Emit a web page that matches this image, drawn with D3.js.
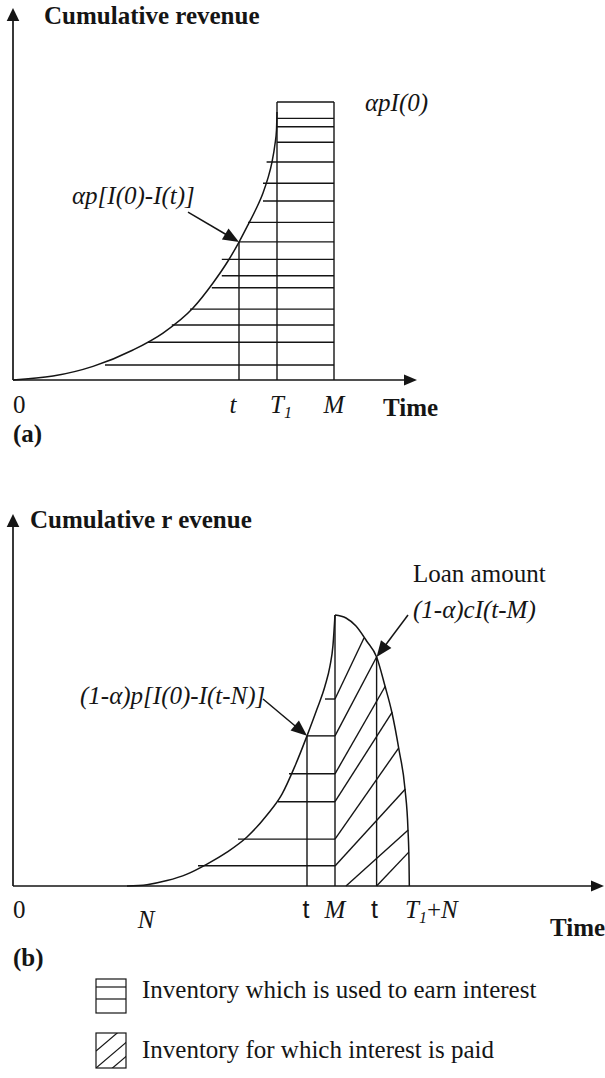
<!DOCTYPE html>
<html>
<head>
<meta charset="utf-8">
<script src="https://cdn.jsdelivr.net/npm/d3@7"></script>
<style>
  body { margin: 0; background: #fff; }
  svg { display: block; }
  text { font-family: "Liberation Serif", "Times New Roman", serif; font-size: 25px; fill: #151515; }
  .bold { font-weight: bold; }
  .it { font-style: italic; }
</style>
</head>
<body>
<svg id="fig" width="605" height="1078"></svg>
<script>
// ---------- Panel (a): revenue earned on the alpha share ----------
const curveA_time = [0, 10, 20, 30, 37.5, 45, 50, 53.75, 56.5, 58.75, 60.75, 62.5, 63.75, 64.75, 65.5, 65.875, 66];
const curveA_rev  = [0, 1.4, 4.9, 10.8, 16.9, 25.9, 34.9, 42.8, 49.6, 55.8, 61.5, 67.3, 72.7, 78.4, 84.9, 89.9, 96.4];
const hatchA_rev  = [94.1, 91.1, 85.5, 78.4, 70.8, 64.4, 56.7, 49.7, 43.4, 37.5, 33.2, 25.5, 19.8, 13.6, 5.4];
const hatchA_from = [66, 66, 66, 63.4, 62.5, 62.5, 58.75, 56.5, 52.2, 52.2, 49.7, 44.25, 39.7, 33.75, 23];
const markA_times = [56.5, 66, 80.25];     // t, T1, M
const markA_tops  = [49.6, 100, 100];      // revenue where each vertical stops
const tickA_labels = ["0", "t", "T_1", "M"];
const tickA_times  = [0, 56.5, 66, 80.25];
const tickA_italic = [false, true, true, true];
const axisA_ends = [101, 133.8];           // time end, revenue end
const annA_from = [43.75, 60.4];
const annA_to   = [56.5, 49.6];

// ---------- Panel (b): revenue on the (1-alpha) share and the loan ----------
const riseB_time = [28.5, 33.5, 38.5, 43.5, 48.5, 53.5, 58.5, 63.5, 67.25, 70.5, 73.5, 76, 78, 79.25, 80, 80.5];
const riseB_rev  = [0, 0.5, 2.0, 4.4, 8.1, 12.5, 18.1, 26.2, 33.9, 44.3, 55.4, 65.3, 73.8, 81.2, 88.9, 100];
const fallB_time = [80.5, 83.25, 85.75, 88.4, 90.9, 93, 94.7, 96.5, 98, 98.75, 99, 99.08];
const fallB_rev  = [100, 98.9, 95.9, 90.4, 84.5, 73.8, 64.2, 50.2, 35.8, 20.7, 9.2, 0];
const hatchB_rev  = [69, 55.4, 41.4, 31.1, 17.3, 7.5];
const hatchB_from = [78, 73.5, 69, 66.25, 56.25, 46.25];
const slashB_t0 = [80.5, 80.5, 80.5, 80.5, 80.5, 80.5, 83.25, 90.9];
const slashB_v0 = [69, 55.4, 41.4, 31.1, 17.3, 7.4, 0, 0];
const slashB_t1 = [87.75, 90.9, 93.1, 94.8, 96.4, 98.1, 98.8, 98.95];
const slashB_v1 = [91.5, 84.5, 73.8, 64.2, 50.9, 35.8, 20.7, 12.5];
const markB_times = [73.5, 80.5, 90.9];    // t, M, t
const markB_tops  = [55.4, 100, 84.5];
const tickB_labels = ["0", "N", "t", "M", "t", "T_1+N"];
const tickB_times  = [0, 28.5, 73.5, 80.5, 90.9, 99];
const tickB_italic = [false, true, false, true, false, true];
const axisB_ends = [147.75, 137.3];
const annB1_from = [62.5, 69];
const annB1_to   = [73.5, 55.4];
const annB2_from = [98.75, 100];
const annB2_to   = [90.9, 84.5];

const legendLabels = ["Inventory which is used to earn interest", "Inventory for which interest is paid"];

// ---------- scales ----------
const x  = d3.scaleLinear().domain([0, 100]).range([13, 413]);
const yA = d3.scaleLinear().domain([0, 100]).range([380, 102]);
const yB = d3.scaleLinear().domain([0, 100]).range([886, 615]);

const ink = "#151515";
const svg = d3.select("#fig");

function seg(g, x1, y1, x2, y2, w) {
  return g.append("line").attr("x1", x1).attr("y1", y1).attr("x2", x2).attr("y2", y2)
    .attr("stroke", ink).attr("stroke-width", w || 1.4);
}

function arrow(g, x1, y1, x2, y2, len, hw, w) {
  const dx = x2 - x1, dy = y2 - y1, L = Math.hypot(dx, dy), ux = dx / L, uy = dy / L;
  const bx = x2 - ux * len, by = y2 - uy * len;
  seg(g, x1, y1, bx + ux, by + uy, w);
  g.append("path")
    .attr("d", `M${x2},${y2}L${bx - uy * hw},${by + ux * hw}L${bx + uy * hw},${by - ux * hw}Z`)
    .attr("fill", ink);
}

// label text; "_1" marks a subscript, "+" is set upright
function richText(g, str, px, py, italic, anchor) {
  const t = g.append("text").attr("x", px).attr("y", py).attr("text-anchor", anchor || "start");
  if (italic) t.classed("it", true);
  const parts = str.split(/(_\d)/).filter(s => s.length);
  let lowered = false;
  parts.forEach(p => {
    if (p[0] === "_") {
      t.append("tspan").attr("font-size", 16).attr("dy", 5).text(p.slice(1));
      lowered = true;
    } else {
      p.split(/(\+)/).filter(s => s.length).forEach(c => {
        const ts = t.append("tspan").text(c);
        if (c === "+") ts.style("font-style", "normal");
        if (lowered) { ts.attr("dy", -5); lowered = false; }
      });
    }
  });
  return t;
}

const line = d3.line().curve(d3.curveMonotoneX);

// ================= Panel (a) =================
const gA = svg.append("g");

hatchA_rev.forEach((v, i) => seg(gA, x(hatchA_from[i]), yA(v), x(markA_times[2]), yA(v), 1.4));
seg(gA, x(markA_times[1]), yA(100), x(markA_times[2]), yA(100), 1.4);
markA_times.forEach((tm, i) => seg(gA, x(tm), yA(0), x(tm), yA(markA_tops[i]), 1.4));
gA.append("path")
  .attr("d", line(curveA_time.map((tm, i) => [x(tm), yA(curveA_rev[i])])))
  .attr("fill", "none").attr("stroke", ink).attr("stroke-width", 1.5);

arrow(gA, x(0), yA(0), x(axisA_ends[0]), yA(0), 13, 5.5, 1.7);
arrow(gA, x(0), yA(0), x(0), yA(axisA_ends[1]), 13, 6.3, 1.7);
arrow(gA, x(annA_from[0]), yA(annA_from[1]), x(annA_to[0]), yA(annA_to[1]), 16, 6.5, 1.5);

gA.append("text").attr("class", "bold").attr("x", 44).attr("y", 24).text("Cumulative revenue");
gA.append("text").attr("class", "it").attr("x", 365).attr("y", 111).text("αpI(0)");
gA.append("text").attr("class", "it").attr("x", 72).attr("y", 204).text("αp[I(0)-I(t)]");

const offA = [0, -6, -7, 0];
const ancA = ["start", "middle", "start", "middle"];
tickA_labels.forEach((lb, i) => {
  richText(gA, lb, x(tickA_times[i]) + offA[i], 413, tickA_italic[i], ancA[i]);
});
gA.append("text").attr("class", "bold").attr("x", 383).attr("y", 416).text("Time");
gA.append("text").attr("class", "bold").attr("x", 13).attr("y", 442).text("(a)");

// ================= Panel (b) =================
const gB = svg.append("g");

hatchB_rev.forEach((v, i) => seg(gB, x(hatchB_from[i]), yB(v), x(markB_times[1]), yB(v), 1.4));
slashB_t0.forEach((t0, i) => seg(gB, x(t0), yB(slashB_v0[i]), x(slashB_t1[i]), yB(slashB_v1[i]), 1.4));
markB_times.forEach((tm, i) => seg(gB, x(tm), yB(0), x(tm), yB(markB_tops[i]), 1.4));

gB.append("path")
  .attr("d", line(riseB_time.map((tm, i) => [x(tm), yB(riseB_rev[i])])))
  .attr("fill", "none").attr("stroke", ink).attr("stroke-width", 1.5);
gB.append("path")
  .attr("d", line(fallB_time.map((tm, i) => [x(tm), yB(fallB_rev[i])])))
  .attr("fill", "none").attr("stroke", ink).attr("stroke-width", 1.5);

arrow(gB, x(0), yB(0), x(axisB_ends[0]), yB(0), 13, 5.5, 1.7);
arrow(gB, x(0), yB(0), x(0), yB(axisB_ends[1]), 13, 6.3, 1.7);
arrow(gB, x(annB1_from[0]), yB(annB1_from[1]), x(annB1_to[0]), yB(annB1_to[1]), 16, 6.5, 1.5);
arrow(gB, x(annB2_from[0]), yB(annB2_from[1]), x(annB2_to[0]), yB(annB2_to[1]), 16, 6.5, 1.5);

gB.append("text").attr("class", "bold").attr("x", 30).attr("y", 528).text("Cumulative r evenue");
gB.append("text").attr("x", 413).attr("y", 582).text("Loan amount");
gB.append("text").attr("class", "it").attr("x", 413).attr("y", 618).text("(1-α)cI(t-M)");
gB.append("text").attr("class", "it").attr("x", 80).attr("y", 704).text("(1-α)p[I(0)-I(t-N)]");

const offB = [0, 19, -1, 0, -2, -4];
const ancB = ["start", "middle", "middle", "middle", "middle", "start"];
const yLabB = [918, 928, 918, 918, 918, 918];
tickB_labels.forEach((lb, i) => {
  const t = richText(gB, lb, x(tickB_times[i]) + offB[i], yLabB[i], tickB_italic[i], ancB[i]);
  if (lb === "t") t.style("font-family", "'Liberation Sans', Arial, sans-serif").attr("font-size", 23);
});
gB.append("text").attr("class", "bold").attr("x", 550).attr("y", 936).text("Time");
gB.append("text").attr("class", "bold").attr("x", 13).attr("y", 966).text("(b)");

// ================= Legend =================
const gL = svg.append("g");
const boxX = 96, boxW = 30;
gL.append("rect").attr("x", boxX).attr("y", 979).attr("width", boxW).attr("height", 34)
  .attr("fill", "none").attr("stroke", ink).attr("stroke-width", 1.2);
[987, 999].forEach(yy => seg(gL, boxX, yy, boxX + boxW, yy, 1.2));

gL.append("clipPath").attr("id", "lgclip").append("rect")
  .attr("x", boxX).attr("y", 1033).attr("width", boxW).attr("height", 35);
const gD = gL.append("g").attr("clip-path", "url(#lgclip)");
[1051, 1068, 1082].forEach(y0 => seg(gD, boxX, y0, boxX + 40, y0 - 34, 1.2));
gL.append("rect").attr("x", boxX).attr("y", 1033).attr("width", boxW).attr("height", 35)
  .attr("fill", "none").attr("stroke", ink).attr("stroke-width", 1.2);

gL.append("text").attr("x", 142).attr("y", 998).text(legendLabels[0]);
gL.append("text").attr("x", 142).attr("y", 1058).text(legendLabels[1]);
</script>
</body>
</html>
